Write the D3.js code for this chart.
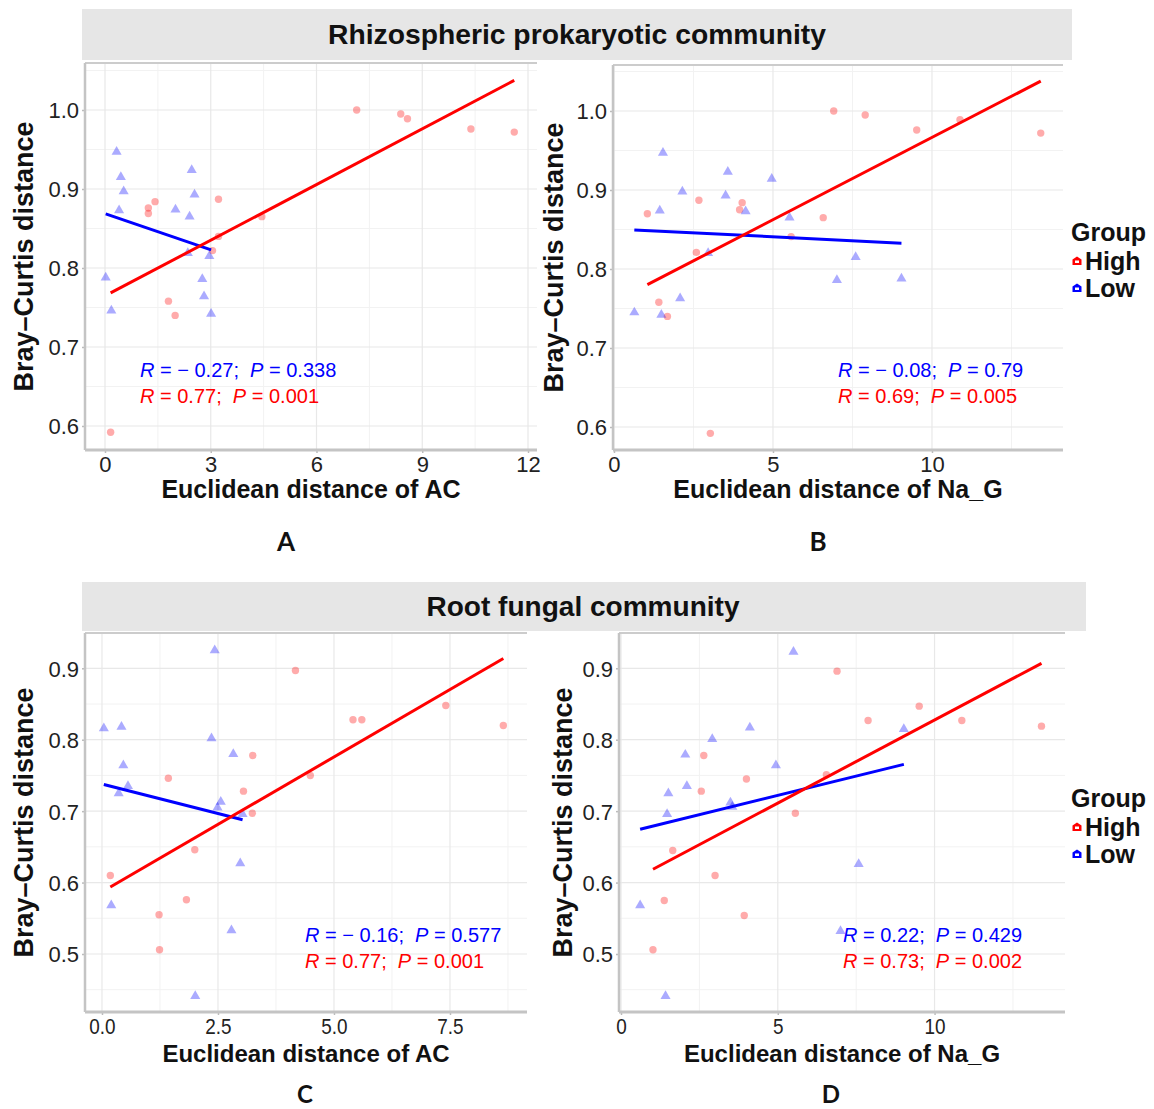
<!DOCTYPE html>
<html>
<head>
<meta charset="utf-8">
<script src="https://cdn.jsdelivr.net/npm/d3@7"></script>
<style>
  body { margin: 0; background: #fff; }
  text { font-family: "Liberation Sans", Arial, sans-serif; }
</style>
</head>
<body>
<script>
// ---- data ----
// A: rhizosphere prokaryotes vs AC distance
var aHighX = [7.14, 8.39, 8.58, 10.38, 11.61, 1.42, 1.23, 1.23, 3.22, 4.45, 3.22, 3.05, 1.80, 1.99, 0.16];
var aHighY = [1.000, 0.995, 0.989, 0.976, 0.972, 0.884, 0.876, 0.869, 0.887, 0.865, 0.840, 0.822, 0.758, 0.740, 0.592];
var aLowX = [0.33, 0.45, 0.53, 0.40, 2.46, 2.54, 2.00, 2.40, 2.35, 2.96, 0.02, 2.76, 2.81, 0.18, 3.01];
var aLowY = [0.947, 0.915, 0.897, 0.873, 0.924, 0.893, 0.874, 0.865, 0.819, 0.815, 0.788, 0.786, 0.764, 0.746, 0.742];
// B: rhizosphere prokaryotes vs Na_G distance
var bHighX = [6.91, 7.90, 9.52, 10.88, 13.42, 1.05, 2.67, 4.03, 3.95, 6.58, 5.57, 2.59, 1.41, 1.68, 3.03];
var bHighY = [1.000, 0.995, 0.976, 0.989, 0.972, 0.870, 0.887, 0.884, 0.875, 0.865, 0.841, 0.821, 0.758, 0.740, 0.592];
var bLowX = [1.54, 3.58, 4.96, 2.15, 3.51, 1.44, 4.14, 5.52, 2.96, 7.60, 7.01, 9.04, 2.08, 0.64, 1.49];
var bLowY = [0.947, 0.923, 0.914, 0.898, 0.893, 0.874, 0.873, 0.865, 0.820, 0.815, 0.786, 0.788, 0.763, 0.745, 0.742];
// C: root fungi vs AC distance
var cHighX = [4.17, 5.41, 5.60, 7.41, 8.65, 3.25, 1.43, 3.05, 4.49, 3.24, 2.00, 0.18, 1.82, 1.23, 1.24];
var cHighY = [0.897, 0.828, 0.828, 0.848, 0.820, 0.778, 0.746, 0.728, 0.750, 0.697, 0.646, 0.610, 0.576, 0.555, 0.506];
var cLowX = [2.43, 0.04, 0.42, 2.36, 2.83, 0.46, 0.56, 0.36, 2.56, 2.49, 3.03, 2.98, 0.20, 2.79, 2.01];
var cLowY = [0.925, 0.816, 0.818, 0.802, 0.780, 0.764, 0.735, 0.725, 0.713, 0.705, 0.696, 0.627, 0.568, 0.533, 0.441];
// D: root fungi vs Na_G distance
var dHighX = [6.89, 7.88, 9.51, 10.87, 13.41, 2.64, 4.00, 2.56, 6.55, 5.56, 1.65, 3.00, 1.38, 3.93, 1.02];
var dHighY = [0.896, 0.827, 0.847, 0.827, 0.819, 0.778, 0.745, 0.728, 0.751, 0.697, 0.645, 0.610, 0.575, 0.554, 0.506];
var dLowX = [5.50, 4.11, 2.91, 2.05, 9.02, 4.94, 2.10, 1.51, 3.49, 3.55, 1.47, 7.58, 0.61, 7.00, 1.42];
var dLowY = [0.923, 0.817, 0.801, 0.779, 0.815, 0.764, 0.735, 0.725, 0.712, 0.706, 0.696, 0.626, 0.568, 0.532, 0.441];

// tick values
var acTicks1 = [0, 3, 6, 9, 12];
var acTicks2 = [0, 2.5, 5, 7.5];
var naTicks = [0, 5, 10];
var prokTicksY = [0.6, 0.7, 0.8, 0.9, 1.0];
var fungTicksY = [0.5, 0.6, 0.7, 0.8, 0.9];

// correlation labels
var lowR = ["\u2212 0.27", "\u2212 0.08", "\u2212 0.16", "0.22"];
var lowP = ["0.338", "0.79", "0.577", "0.429"];
var highR = ["0.77", "0.69", "0.77", "0.73"];
var highP = ["0.001", "0.005", "0.001", "0.002"];

var groups = ["High", "Low"];
var stripTitles = ["Rhizospheric prokaryotic community", "Root fungal community"];
var panelLetters = ["A", "B", "C", "D"];

var RED = "#ff0000", BLUE = "#0000ff";

var svg = d3.select("body").append("svg")
    .attr("width", 1154)
    .attr("height", 1109);

// strips
var strips = [
  {x0: 82, x1: 1072, y0: 9, y1: 60, cx: 577, tw: 498},
  {x0: 82, x1: 1086, y0: 582, y1: 631, cx: 583, tw: 313}
];
strips.forEach(function(s, i) {
  svg.append("rect").attr("x", s.x0).attr("y", s.y0)
    .attr("width", s.x1 - s.x0).attr("height", s.y1 - s.y0)
    .attr("fill", "#e6e6e6");
  svg.append("text")
    .attr("x", s.cx)
    .attr("y", (s.y0 + s.y1) / 2 + 9)
    .attr("text-anchor", "middle")
    .attr("textLength", s.tw)
    .attr("lengthAdjust", "spacingAndGlyphs")
    .style("font-family", "'Liberation Sans Narrow', 'Liberation Sans', sans-serif")
    .style("font-weight", "700")
    .style("font-size", "27px")
    .attr("fill", "#111")
    .text(stripTitles[i]);
});

var panels = [
  {hx: aHighX, hy: aHighY, lx: aLowX, ly: aLowY, box: [85, 63, 537, 450],
   xd: [-0.567, 12.255], yd: [0.5696, 1.0595], xt: acTicks1, yt: prokTicksY, fmt: d3.format("d"), squeeze: 1,
   xlab: "Euclidean distance of AC", yTitleX: 33, stat: [140, 377], letter: [286, 551]},
  {hx: bHighX, hy: bHighY, lx: bLowX, ly: bLowY, box: [613, 65, 1063, 450],
   xd: [-0.031, 14.12], yd: [0.5709, 1.0582], xt: naTicks, yt: prokTicksY, fmt: d3.format("d"), squeeze: 1,
   xlab: "Euclidean distance of Na_G", yTitleX: 563, stat: [838, 377], letter: [818, 551]},
  {hx: cHighX, hy: cHighY, lx: cLowX, ly: cLowY, box: [85, 633, 527, 1012],
   xd: [-0.366, 9.16], yd: [0.4188, 0.9494], xt: acTicks2, yt: fungTicksY, fmt: d3.format(".1f"), squeeze: 0.86,
   xlab: "Euclidean distance of AC", yTitleX: 33, stat: [305, 942], letter: [305, 1103]},
  {hx: dHighX, hy: dHighY, lx: dLowX, ly: dLowY, box: [619, 633, 1065, 1012],
   xd: [-0.064, 14.16], yd: [0.4188, 0.9494], xt: naTicks, yt: fungTicksY, fmt: d3.format("d"), squeeze: 0.86,
   xlab: "Euclidean distance of Na_G", yTitleX: 572, stat: [843, 942], letter: [831, 1103]}
];

function linFit(xs, ys) {
  var mx = d3.mean(xs), my = d3.mean(ys), sxy = 0, sxx = 0;
  xs.forEach(function(x, i) { sxy += (x - mx) * (ys[i] - my); sxx += (x - mx) * (x - mx); });
  var b = sxy / sxx;
  return function(x) { return my + b * (x - mx); };
}

panels.forEach(function(p, pi) {
  var L = p.box[0], T = p.box[1], R = p.box[2], B = p.box[3];
  var x = d3.scaleLinear().domain(p.xd).range([L, R]);
  var y = d3.scaleLinear().domain(p.yd).range([B, T]);
  var g = svg.append("g");
  var bottomRow = pi > 1;

  // minor grid (midpoints between major ticks)
  var xstep = p.xt[1] - p.xt[0], ystep = p.yt[1] - p.yt[0];
  var xMinor = d3.range(p.xt[0] - xstep / 2, p.xd[1], xstep).filter(function(v) { return v > p.xd[0]; });
  var yMinor = d3.range(p.yt[0] - ystep / 2, p.yd[1], ystep).filter(function(v) { return v > p.yd[0]; });
  g.selectAll(".xminor").data(xMinor).enter().append("line")
    .attr("x1", function(d) { return x(d); }).attr("x2", function(d) { return x(d); })
    .attr("y1", T).attr("y2", B).attr("stroke", "#f2f2f2").attr("stroke-width", 1);
  g.selectAll(".yminor").data(yMinor).enter().append("line")
    .attr("y1", function(d) { return y(d); }).attr("y2", function(d) { return y(d); })
    .attr("x1", L).attr("x2", R).attr("stroke", "#f2f2f2").attr("stroke-width", 1);
  g.selectAll(".xmajor").data(p.xt).enter().append("line")
    .attr("x1", function(d) { return x(d); }).attr("x2", function(d) { return x(d); })
    .attr("y1", T).attr("y2", B).attr("stroke", "#e8e8e8").attr("stroke-width", 1.2);
  g.selectAll(".ymajor").data(p.yt).enter().append("line")
    .attr("y1", function(d) { return y(d); }).attr("y2", function(d) { return y(d); })
    .attr("x1", L).attr("x2", R).attr("stroke", "#e8e8e8").attr("stroke-width", 1.2);

  // frame top
  g.append("line").attr("x1", L).attr("x2", R).attr("y1", T).attr("y2", T)
    .attr("stroke", "#cccccc").attr("stroke-width", 2);

  // axes
  var xAxis = d3.axisBottom(x).tickValues(p.xt).tickFormat(p.fmt).tickSize(3).tickPadding(3);
  var yAxis = d3.axisLeft(y).tickValues(p.yt).tickFormat(d3.format(".1f")).tickSize(3).tickPadding(3);
  var gx = g.append("g").attr("transform", "translate(0," + B + ")").call(xAxis);
  var gy = g.append("g").attr("transform", "translate(" + L + ",0)").call(yAxis);
  [gx, gy].forEach(function(a) {
    a.select(".domain").remove();
    a.selectAll(".tick line").attr("stroke", "#bbbbbb").attr("stroke-width", 1.5);
    a.selectAll(".tick text").style("font-size", "22px").attr("fill", "#222")
      .style("font-family", "'Liberation Sans', Arial, sans-serif");
  });
  gx.selectAll(".tick text").attr("dy", "0.72em")
    .attr("transform", "scale(" + p.squeeze + ",1)");
  gy.selectAll(".tick text").attr("dy", "0.36em");
  g.append("line").attr("x1", L).attr("x2", L).attr("y1", T).attr("y2", B)
    .attr("stroke", "#c4c4c4").attr("stroke-width", 2.5);
  g.append("line").attr("x1", L).attr("x2", R).attr("y1", B).attr("y2", B)
    .attr("stroke", "#c4c4c4").attr("stroke-width", 3);

  // points
  g.selectAll(".high").data(p.hx).enter().append("circle")
    .attr("cx", function(d) { return x(d); })
    .attr("cy", function(d, i) { return y(p.hy[i]); })
    .attr("r", 3.7)
    .attr("fill", RED).attr("fill-opacity", 0.33);
  g.selectAll(".low").data(p.lx).enter().append("path")
    .attr("d", d3.symbol().type(d3.symbolTriangle).size(44))
    .attr("transform", function(d, i) { return "translate(" + x(d) + "," + y(p.ly[i]) + ")"; })
    .attr("fill", BLUE).attr("fill-opacity", 0.33);

  // regression lines (least squares per group)
  [[p.lx, p.ly, BLUE], [p.hx, p.hy, RED]].forEach(function(s) {
    var f = linFit(s[0], s[1]);
    var ext = d3.extent(s[0]);
    g.append("line")
      .attr("x1", x(ext[0])).attr("y1", y(f(ext[0])))
      .attr("x2", x(ext[1])).attr("y2", y(f(ext[1])))
      .attr("stroke", s[2]).attr("stroke-width", 3);
  });

  // correlation labels
  [[lowR[pi], lowP[pi], BLUE, 0], [highR[pi], highP[pi], RED, 26]].forEach(function(s) {
    var t = g.append("text").attr("x", p.stat[0]).attr("y", p.stat[1] + s[3])
      .attr("fill", s[2]).style("font-size", "20px");
    t.append("tspan").style("font-style", "italic").text("R");
    t.append("tspan").text(" = " + s[0] + ";\u00a0 ");
    t.append("tspan").style("font-style", "italic").text("P");
    t.append("tspan").text(" = " + s[1]);
  });

  // axis titles
  g.append("text").attr("x", (L + R) / 2).attr("y", B + (bottomRow ? 50 : 48))
    .attr("text-anchor", "middle").style("font-weight", "700")
    .style("font-size", bottomRow ? "24px" : "25px")
    .attr("fill", "#111").text(p.xlab);
  g.append("text").attr("transform", "translate(" + p.yTitleX + "," + (T + B) / 2 + ") rotate(-90)")
    .attr("text-anchor", "middle").style("font-weight", "700").style("font-size", "27px")
    .attr("fill", "#111").text("Bray\u2013Curtis distance");

  // panel letter
  g.append("text").attr("x", p.letter[0]).attr("y", p.letter[1])
    .attr("text-anchor", "middle")
    .style("font-family", "Lato, 'Open Sans', sans-serif")
    .style("font-weight", "700").style("font-size", bottomRow ? "24px" : "26px").attr("fill", "#111")
    .text(panelLetters[pi]);
});

// legends
var legends = [{x: 1071, y: 232}, {x: 1071, y: 798}];
var keyColor = [RED, BLUE];
legends.forEach(function(lg) {
  var g = svg.append("g").attr("transform", "translate(" + lg.x + "," + lg.y + ")");
  g.append("text").attr("x", 0).attr("y", 9).style("font-weight", "700")
    .style("font-size", "25px").attr("fill", "#111").text("Group");
  groups.forEach(function(name, i) {
    var cy = 29 + i * 27;
    var k = g.append("g").attr("transform", "translate(6," + cy + ")");
    k.append("path").attr("d", "M-4.5,4 L-4.5,-1.5 L0,-4.5 L4.5,-1.5 L4.5,4 Z").attr("fill", keyColor[i]);
    k.append("rect").attr("x", -2).attr("y", -0.5).attr("width", 4).attr("height", 2.5).attr("fill", "#fff");
    g.append("text").attr("x", 14).attr("y", cy + 9).style("font-weight", "700")
      .style("font-size", "25px").attr("fill", "#111").text(name);
  });
});
</script>
</body>
</html>
